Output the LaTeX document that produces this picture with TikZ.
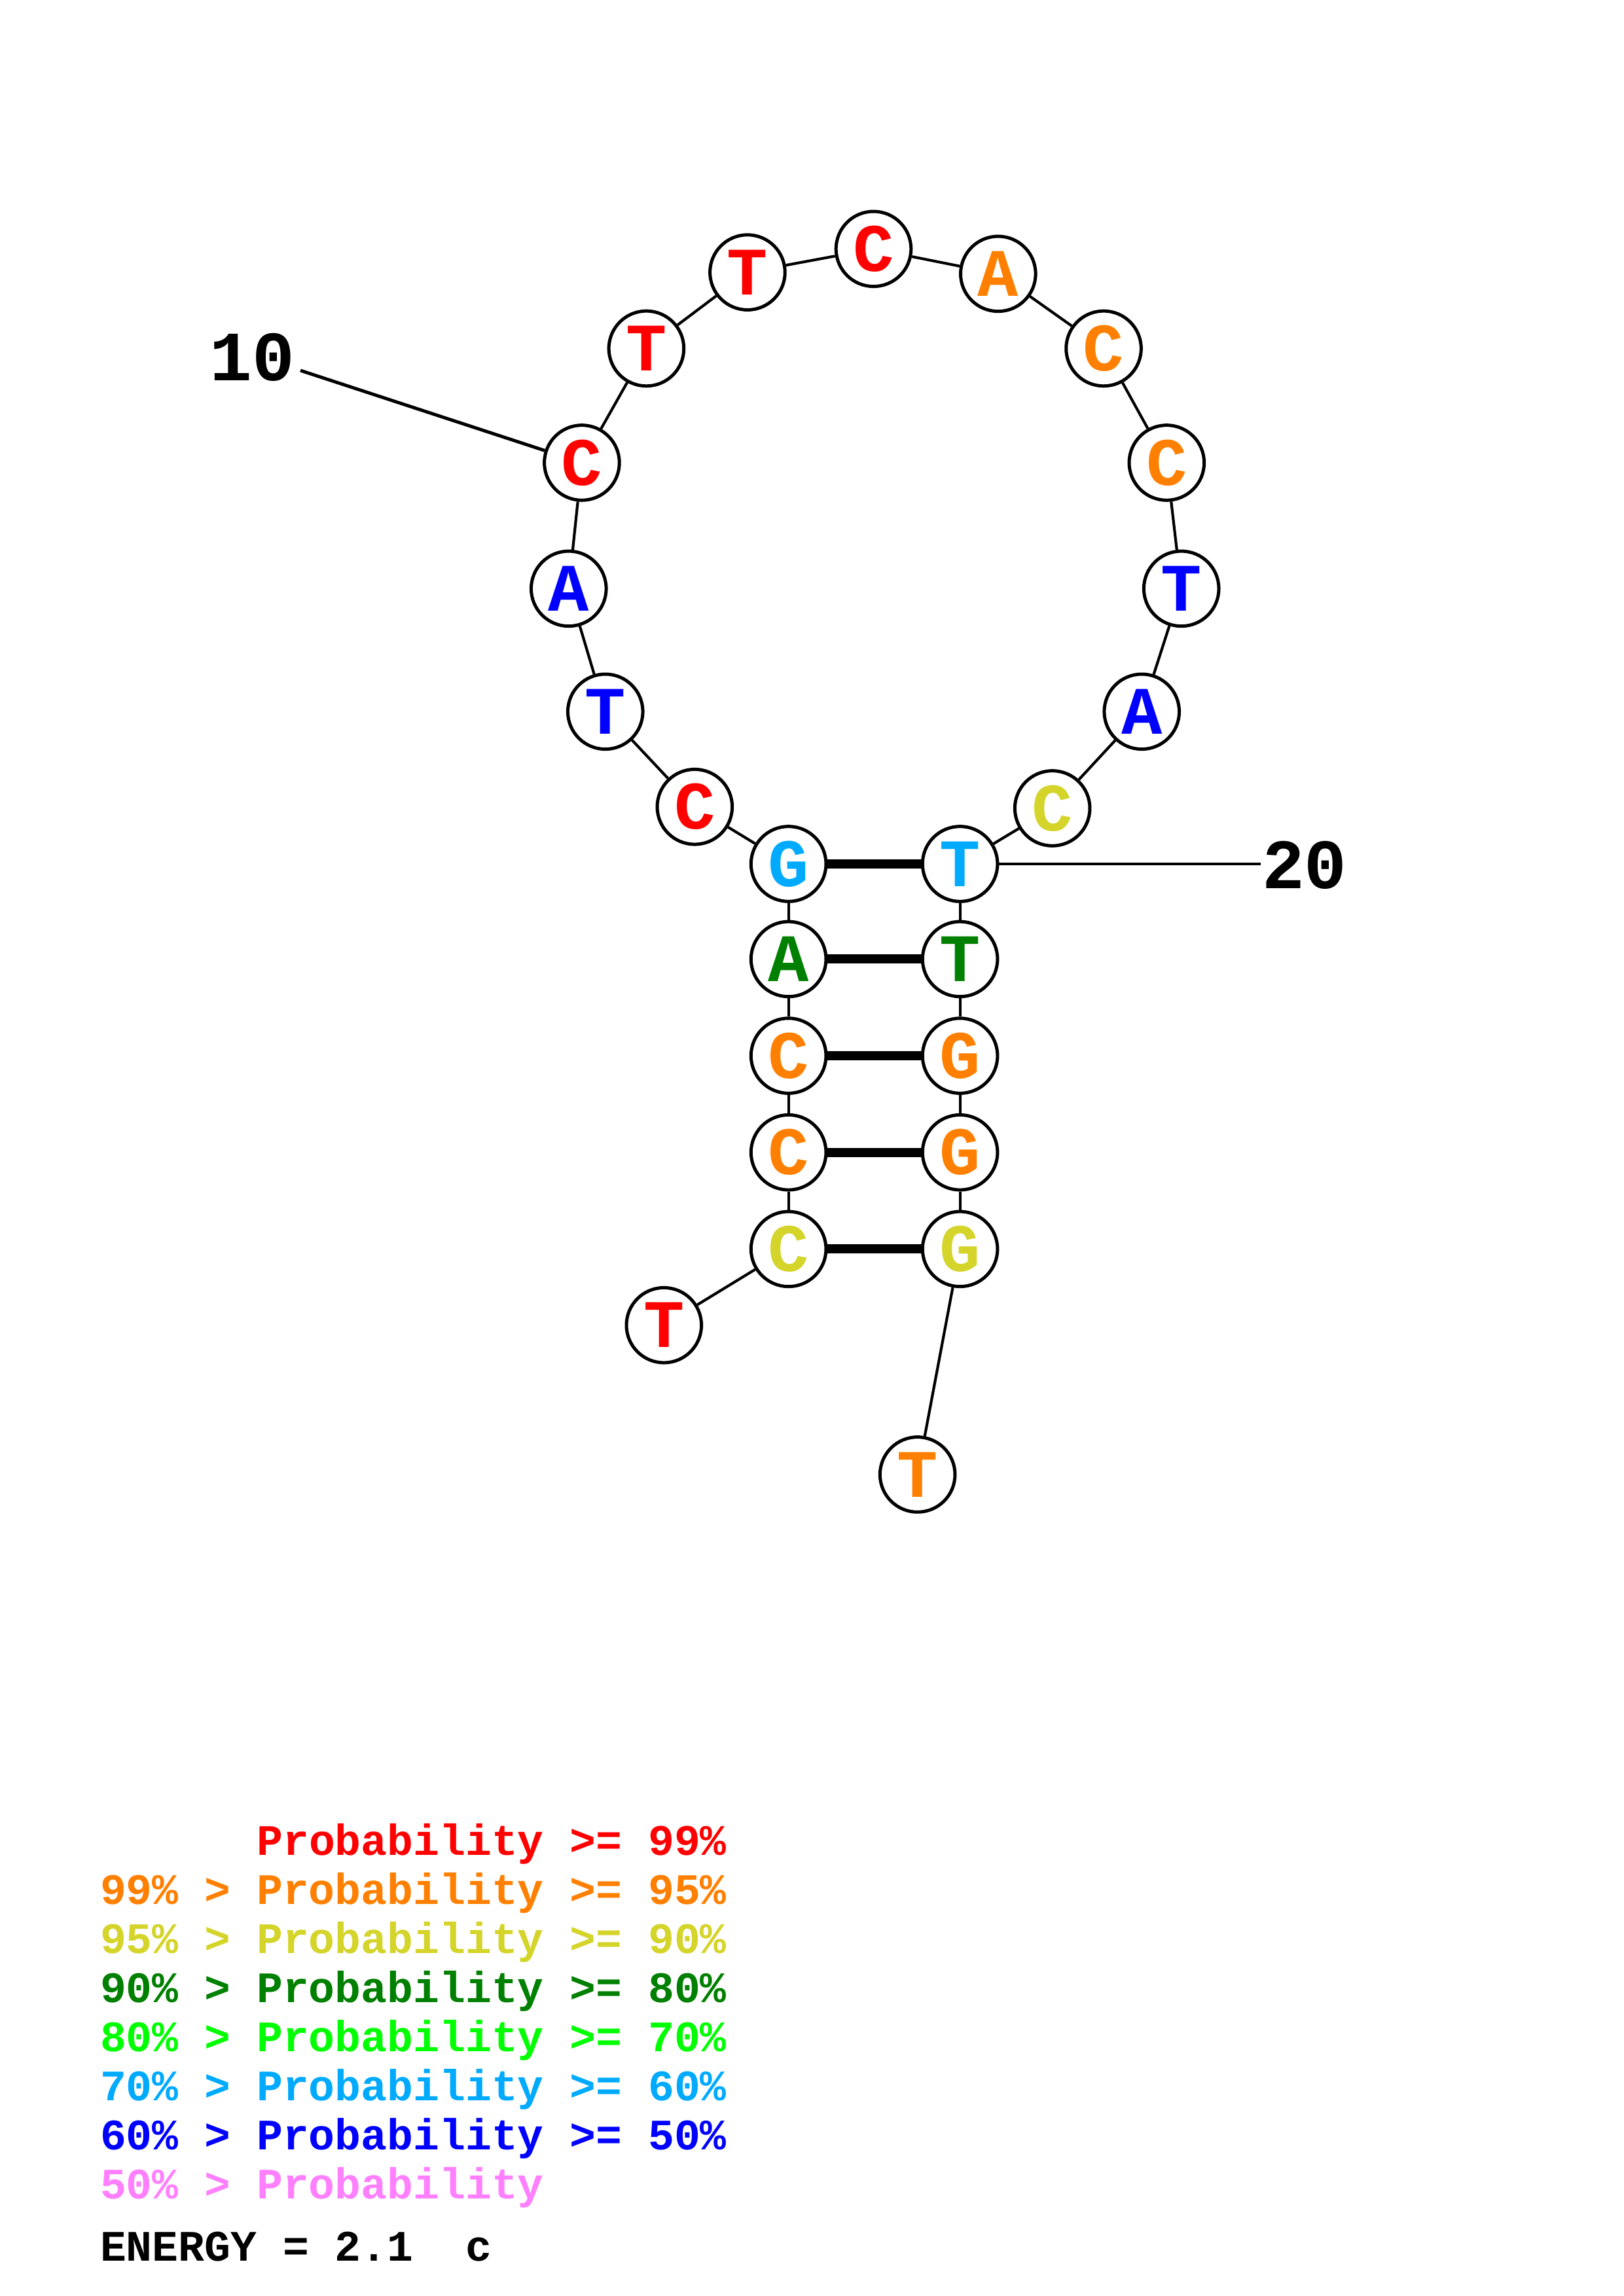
\documentclass[tikz,border=0pt]{standalone}
\usepackage{fontspec}
\setmonofont{Liberation Mono}
\usepackage{tikz}

\definecolor{pred}{RGB}{255,0,0}
\definecolor{porange}{RGB}{255,128,0}
\definecolor{pyellow}{RGB}{212,212,42}
\definecolor{pdkgreen}{RGB}{0,128,0}
\definecolor{pgreen}{RGB}{0,255,0}
\definecolor{pltblue}{RGB}{0,170,255}
\definecolor{pblue}{RGB}{0,0,255}
\definecolor{ppink}{RGB}{255,128,255}

\begin{document}
\begin{tikzpicture}[
  x=0.018953cm,
  y=-0.018941cm,
  base/.style={circle, draw=black, fill=white, line width=1.2pt, minimum size=9.7mm, inner sep=0pt,
    font=\ttfamily\bfseries\fontsize{25}{25}\selectfont},
  backbone/.style={draw=black, line width=1.0pt},
  pairline/.style={draw=black, line width=3.4pt},
  numline/.style={draw=black, line width=1.2pt},
  numlabel/.style={inner sep=0pt, font=\ttfamily\bfseries\fontsize{26}{26}\selectfont},
  legendrow/.style={anchor=base west, inner sep=0pt, font=\ttfamily\bfseries\fontsize{16}{16}\selectfont}
]
  \useasboundingbox (0,0) rectangle (1108,1568);

  \foreach \i/\x/\y/\b/\c in {
      1/453/905/T/pred, 2/538/853/C/pyellow, 3/538/787/C/porange, 4/538/721/C/porange,
      5/538/655/A/pdkgreen, 6/538/590/G/pltblue, 7/474/551/C/pred, 8/413/486/T/pblue,
      9/388/402/A/pblue, 10/397/316/C/pred, 11/441/238/T/pred, 12/510/186/T/pred,
      13/596/170/C/pred, 14/681/187/A/porange, 15/753/238/C/porange, 16/796/316/C/porange,
      17/806/402/T/pblue, 18/779/486/A/pblue, 19/718/552/C/pyellow, 20/655/590/T/pltblue,
      21/655/655/T/pdkgreen, 22/655/721/G/porange, 23/655/787/G/porange, 24/655/853/G/pyellow,
      25/626/1007/T/porange} {
    \node[base, text=\c] (n\i) at (\x,\y) {\b};
  }
  \foreach \i [evaluate=\i as \j using int(\i+1)] in {1,...,24} {
    \draw[backbone] (n\i) -- (n\j);
  }
  \foreach \a/\b in {2/24,3/23,4/22,5/21,6/20} {
    \draw[pairline] (n\a) -- (n\b);
  }

  \node[numlabel] (lab10) at (172,244) {10};
  \coordinate (tick10) at (205,253);
  \draw[numline] (tick10) -- (n10);
  \node[numlabel] (lab20) at (890,591) {20};
  \coordinate (tick20) at (860,590);
  \draw[numline] (n20) -- (tick20);

  \foreach \k/\txt/\c in {
      1/{\hphantom{99\% > }Probability >= 99\%}/pred,
      2/{99\% > Probability >= 95\%}/porange,
      3/{95\% > Probability >= 90\%}/pyellow,
      4/{90\% > Probability >= 80\%}/pdkgreen,
      5/{80\% > Probability >= 70\%}/pgreen,
      6/{70\% > Probability >= 60\%}/pltblue,
      7/{60\% > Probability >= 50\%}/pblue,
      8/{50\% > Probability}/ppink} {
    \node[legendrow, text=\c] (leg\k) at (68,{1267+(\k-1)*33.5}) {\txt};
  }
  \node[legendrow] (energy) at (68,1544) {ENERGY = 2.1\ \ c};
\end{tikzpicture}
\end{document}
